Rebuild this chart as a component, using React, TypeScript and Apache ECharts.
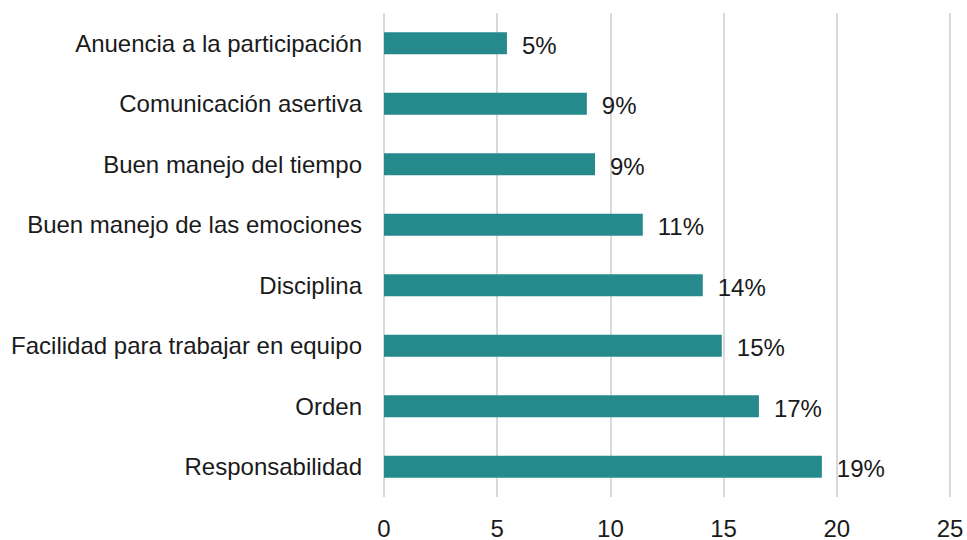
import React, { useEffect, useRef } from "react";
import * as echarts from "echarts";

const categories = [
  "Anuencia a la participación",
  "Comunicación asertiva",
  "Buen manejo del tiempo",
  "Buen manejo de las emociones",
  "Disciplina",
  "Facilidad para trabajar en equipo",
  "Orden",
  "Responsabilidad",
];
const values = [5.43, 8.96, 9.32, 11.43, 14.08, 14.92, 16.56, 19.34];
const valueLabels = ["5%", "9%", "9%", "11%", "14%", "15%", "17%", "19%"];
const xTicks = { min: 0, max: 25, interval: 5 };

const FONT = "'Liberation Sans', Arial, sans-serif";

export default function App() {
  const ref = useRef<HTMLDivElement>(null);
  useEffect(() => {
    if (!ref.current) return;
    const chart = echarts.init(ref.current, null, { renderer: "svg" });
    chart.setOption({
      animation: false,
      backgroundColor: "#ffffff",
      grid: { left: 384, right: 17, top: 13, bottom: 38, containLabel: false },
      xAxis: {
        type: "value",
        min: xTicks.min,
        max: xTicks.max,
        interval: xTicks.interval,
        axisLine: { show: false },
        axisTick: { show: false },
        splitLine: { show: true, lineStyle: { color: "#d9d9d9", width: 2 } },
        axisLabel: { color: "#1a1a1a", fontSize: 24, fontFamily: FONT, margin: 19 },
      },
      yAxis: {
        type: "category",
        inverse: true,
        data: categories,
        axisLine: { show: false },
        axisTick: { show: false },
        axisLabel: { color: "#1a1a1a", fontSize: 24, fontFamily: FONT, margin: 22 },
      },
      series: [
        {
          type: "bar",
          data: values,
          barWidth: 22,
          itemStyle: { color: "#268a8c" },
          label: {
            show: true,
            position: "right",
            distance: 15,
            offset: [0, 2],
            color: "#1a1a1a",
            fontSize: 24,
            fontFamily: FONT,
            formatter: (p: any) => valueLabels[p.dataIndex],
          },
        },
      ],
    });
    return () => chart.dispose();
  }, []);
  return (
    <div
      ref={ref}
      style={{ position: "absolute", left: 0, top: 0, width: 967, height: 540 }}
    />
  );
}
